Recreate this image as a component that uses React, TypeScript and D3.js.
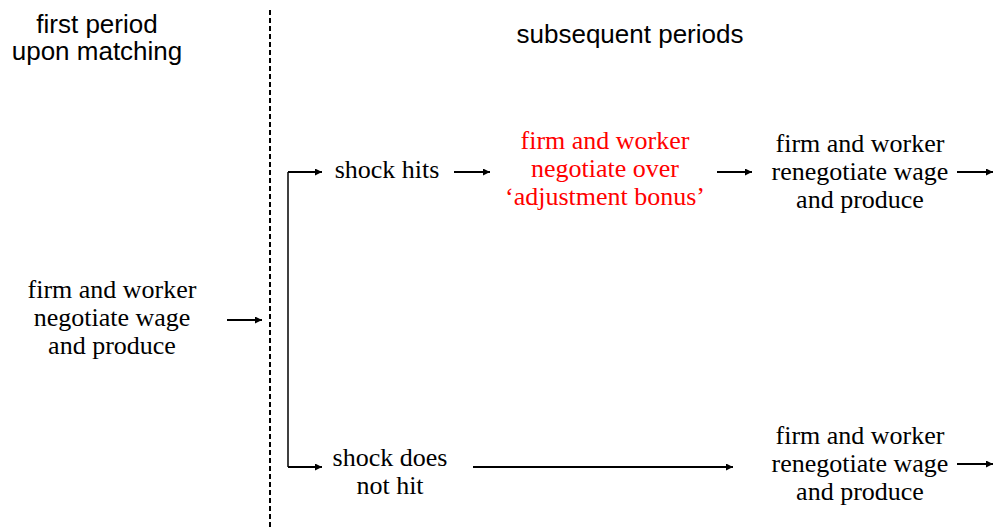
import React from 'react';
import * as d3 from 'd3';

const W = 1001;
const H = 529;

// headers (sans)
const headerLines = [
  { lines: ['first period', 'upon matching'], cx: 97, y0: 33 },
  { lines: ['subsequent periods'], cx: 630, y0: 43 },
];

// text nodes (serif)
const nodeLabels = [
  { id: 'start', lines: ['firm and worker', 'negotiate wage', 'and produce'], cx: 112, cy: 318, color: '#000' },
  { id: 'hit', lines: ['shock hits'], cx: 387, cy: 170, color: '#000' },
  { id: 'bonus', lines: ['firm and worker', 'negotiate over', '\u2018adjustment bonus\u2019'], cx: 605, cy: 169, color: '#ff0000' },
  { id: 'reneg1', lines: ['firm and worker', 'renegotiate wage', 'and produce'], cx: 860, cy: 172, color: '#000' },
  { id: 'nohit', lines: ['shock does', 'not hit'], cx: 390, cy: 472, color: '#000' },
  { id: 'reneg2', lines: ['firm and worker', 'renegotiate wage', 'and produce'], cx: 860, cy: 464, color: '#000' },
];

// arrows [x1, x2, y]
const arrows: [number, number, number][] = [
  [227, 262, 320],
  [288, 322, 172],
  [288, 322, 467],
  [454, 490, 172],
  [717, 752, 172],
  [957, 993, 172],
  [473, 733, 467],
  [957, 993, 464],
];

const bracket = { x: 288, y1: 172, y2: 467 };
const divider = { x: 270, y1: 10, y2: 529 };

const lineH = 28;

export default function App() {
  const line = d3.line<[number, number]>();
  return (
    <svg width={W} height={H} style={{ position: 'absolute', left: 0, top: 0, background: '#fff' }}>
      <defs>
        <marker id="ah" viewBox="0 0 10 10" refX="10" refY="5" markerWidth="10" markerHeight="7" markerUnits="userSpaceOnUse" orient="auto">
          <path d="M0,0 L10,5 L0,10 z" fill="#000" />
        </marker>
      </defs>
      <path
        d={line([[divider.x, divider.y1], [divider.x, divider.y2]]) || ''}
        stroke="#000" strokeWidth={2} strokeDasharray="5,3" fill="none"
      />
      <path
        d={line([[bracket.x, bracket.y1], [bracket.x, bracket.y2]]) || ''}
        stroke="#000" strokeWidth={1.5} fill="none"
      />
      {arrows.map(([x1, x2, y], i) => (
        <path key={i} d={line([[x1, y], [x2, y]]) || ''} stroke="#000" strokeWidth={2} fill="none" markerEnd="url(#ah)" />
      ))}
      {headerLines.map((h, i) => (
        <text key={i} textAnchor="middle" fontFamily="'Liberation Sans', Arial, sans-serif" fontSize={26} fill="#000">
          {h.lines.map((l, j) => (
            <tspan key={j} x={h.cx} y={h.y0 + j * 27}>{l}</tspan>
          ))}
        </text>
      ))}
      {nodeLabels.map((n) => {
        const y0 = n.cy - ((n.lines.length - 1) * lineH) / 2 + 8;
        return (
          <text key={n.id} textAnchor="middle" fontFamily="'Liberation Serif', 'Times New Roman', serif" fontSize={26} fill={n.color}>
            {n.lines.map((l, j) => (
              <tspan key={j} x={n.cx} y={y0 + j * lineH}>{l}</tspan>
            ))}
          </text>
        );
      })}
    </svg>
  );
}
